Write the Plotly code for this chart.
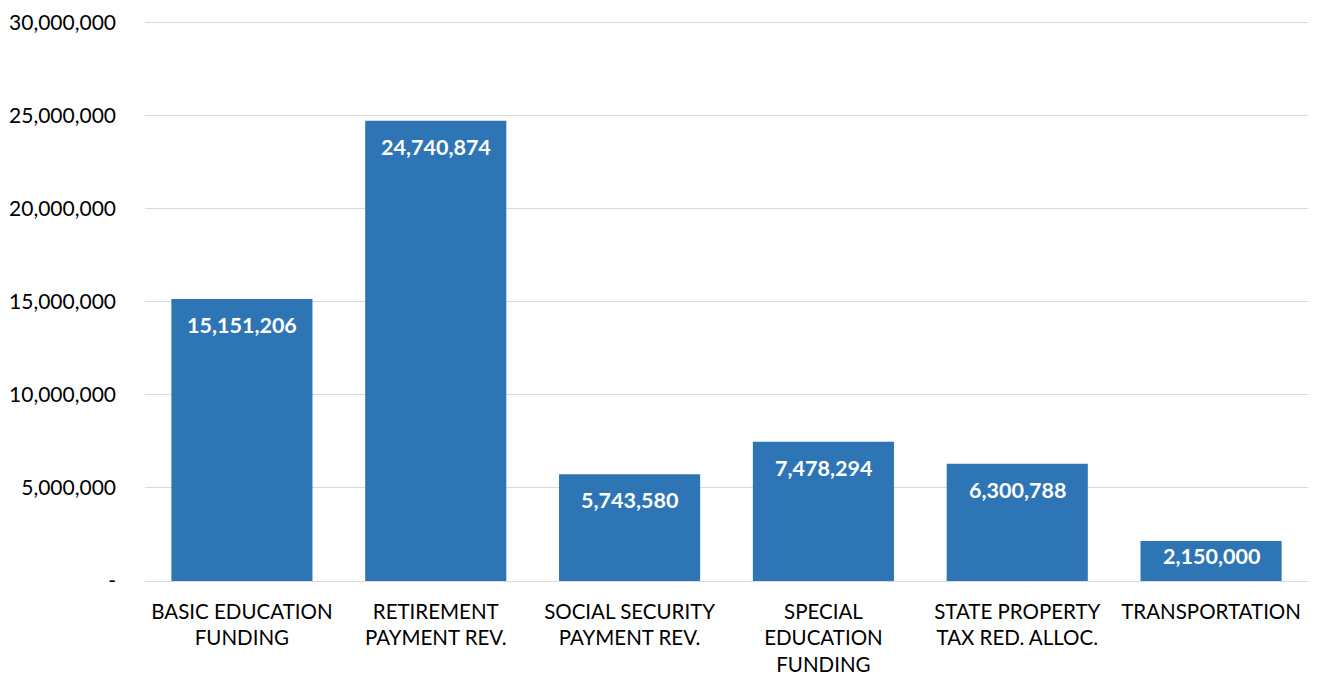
import plotly.graph_objects as go

categories = ["BASIC EDUCATION<br>FUNDING", "RETIREMENT<br>PAYMENT REV.", "SOCIAL SECURITY<br>PAYMENT REV.",
              "SPECIAL<br>EDUCATION<br>FUNDING", "STATE PROPERTY<br>TAX RED. ALLOC.", "TRANSPORTATION"]
values = [15151206, 24740874, 5743580, 7478294, 6300788, 2150000]
tick_vals = [0, 5000000, 10000000, 15000000, 20000000, 25000000, 30000000]
tick_text = ["-", "5,000,000", "10,000,000", "15,000,000", "20,000,000", "25,000,000", "30,000,000"]

FONT = "Lato"
# page body has an 8px default margin; size the figure to fit the window
W, H = 1310, 671
M = dict(l=137, r=10, t=12, b=98)
Y_MAX = 30150000

fig = go.Figure(go.Bar(
    x=categories, y=values,
    marker=dict(color="#2E75B6", line=dict(width=0)),
    hoverinfo="x+y",
))

# value labels: inside end of each bar; centred when the bar is too short
plot_h = H - M["t"] - M["b"]
for c, v in zip(categories, values):
    px_h = v / Y_MAX * plot_h
    if px_h < 70:
        fig.add_annotation(x=c, y=v / 2, text=f"{v:,}", showarrow=False, yanchor="middle", yshift=5,
                           font=dict(family=FONT, size=21.5, color="white", weight="bold"))
    else:
        fig.add_annotation(x=c, y=v, text=f"{v:,}", showarrow=False, yanchor="top", yshift=-11,
                           font=dict(family=FONT, size=21.5, color="white", weight="bold"))

fig.update_layout(
    width=W, height=H,
    margin=M,
    paper_bgcolor="white", plot_bgcolor="white",
    bargap=0.272,
    showlegend=False,
    font=dict(family=FONT, size=20, color="#000000"),
)
fig.update_yaxes(
    range=[0, Y_MAX], tickvals=tick_vals, ticktext=tick_text,
    showgrid=True, gridcolor="#D9D9D9", gridwidth=1.3,
    zeroline=True, zerolinecolor="#D9D9D9", zerolinewidth=1.3,
    ticklabelstandoff=28, automargin=False, ticklabeloverflow="allow",
    tickfont=dict(family=FONT, size=21, color="#000000"),
)
fig.update_xaxes(
    tickfont=dict(family=FONT, size=20.5, color="#000000"),
    ticklabelstandoff=16, automargin=False, ticklabeloverflow="allow",
    showline=False,
)

fig.write_html("out.html")
